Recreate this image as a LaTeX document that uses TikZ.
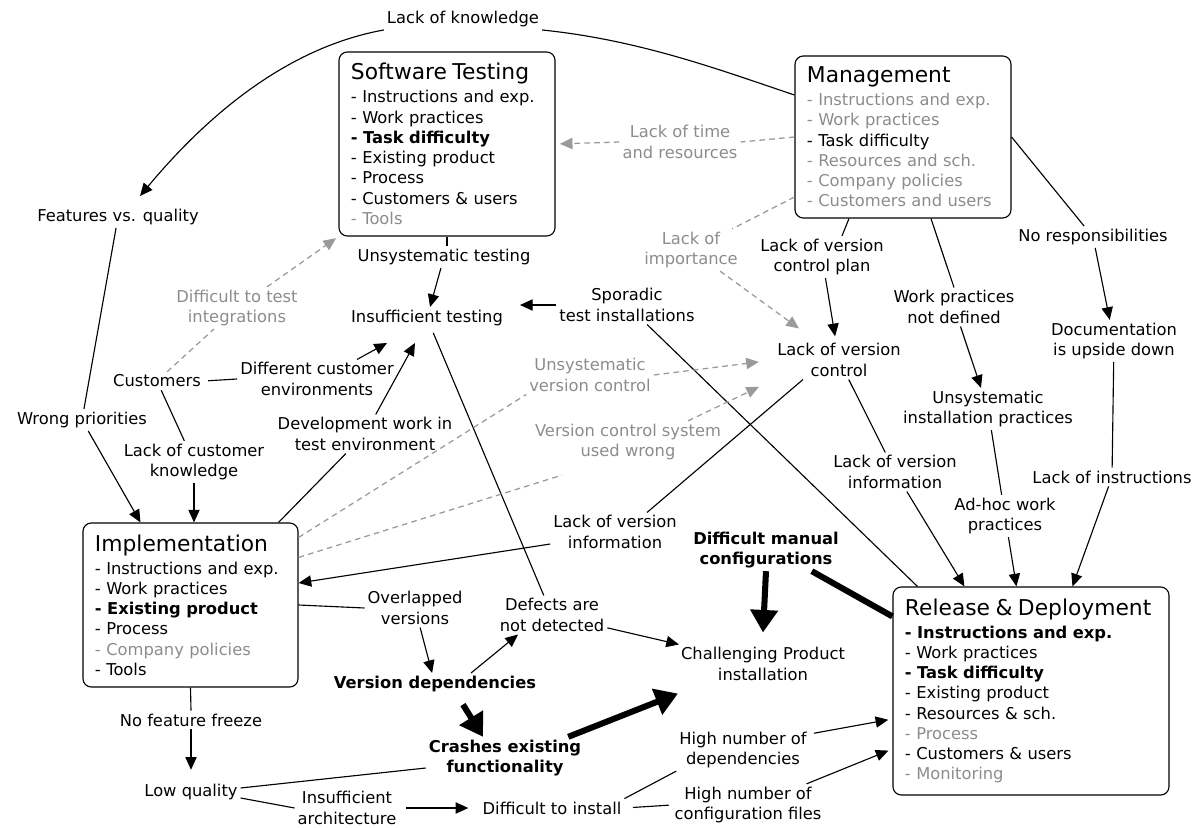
\documentclass[tikz,border=0pt]{standalone}
\usepackage{fontspec}
\setmainfont{DejaVu Sans}
\usetikzlibrary{arrows.meta}

\definecolor{softgray}{HTML}{8C8C8C}
\definecolor{dashgray}{HTML}{9A9A9A}
\newcommand\lblfont{\fontsize{11.6}{14.4}\selectfont}
\newcommand\headfont{\fontsize{15.5}{18}\selectfont}
\newcommand\dimitem[1]{\textcolor{softgray}{- #1}}

\begin{document}
\begin{tikzpicture}[x=0.025cm,y=-0.025cm,
	every node/.style={font=\lblfont},
	lbl/.style={align=center,inner sep=2pt},
	dimlbl/.style={lbl,text=softgray},
	topic/.style={draw,rounded corners=6pt,line width=0.8pt,align=left,inner xsep=0.3cm,inner ysep=3pt},
	link/.style={line width=0.8pt},
	cause/.style={link,-{Triangle[length=9pt,width=8pt]}},
	weaklink/.style={dashgray,line width=0.9pt,dash pattern=on 4pt off 3pt},
	weak/.style={weaklink,-{Triangle[length=9pt,width=8pt]}},
	majorlink/.style={line width=4.3pt},
	major/.style={majorlink,-{Triangle[length=16pt,width=19pt]}}]

	\useasboundingbox (0,0) rectangle (1199,828);

	\node[topic,text width=4.8cm,minimum height=4.6cm] (swt) at (447,144) {{\headfont Software Testing}\\[2pt]
		- Instructions and exp.\\- Work practices\\\textbf{- Task difficulty}\\- Existing product\\- Process\\- Customers \& users\\\dimitem{Tools}};
	\node[topic,text width=4.8cm,minimum height=4.05cm] (mgmt) at (903,137) {{\headfont Management}\\[2pt]
		\dimitem{Instructions and exp.}\\\dimitem{Work practices}\\- Task difficulty\\\dimitem{Resources and sch.}\\\dimitem{Company policies}\\\dimitem{Customers and users}};
	\node[topic,text width=4.775cm,minimum height=4.1cm] (impl) at (190.5,605) {{\headfont Implementation}\\[2pt]
		- Instructions and exp.\\- Work practices\\\textbf{- Existing product}\\- Process\\\dimitem{Company policies}\\- Tools};
	\node[topic,text width=6.3cm,minimum height=5.2cm] (rel) at (1031,691) {{\headfont Release \& Deployment}\\[2pt]
		\textbf{- Instructions and exp.}\\- Work practices\\\textbf{- Task difficulty}\\- Existing product\\- Resources \& sch.\\\dimitem{Process}\\- Customers \& users\\\dimitem{Monitoring}};

	\node[lbl] (know) at (463,19) {Lack of knowledge};
	\node[lbl] (fvq) at (118,217) {Features vs. quality};
	\node[lbl] (wrong) at (82,420) {Wrong priorities};
	\node[lbl] (cust) at (157,381) {Customers};
	\node[dimlbl] (difftest) at (237,308) {Difficult to test\\integrations};
	\node[lbl] (diffenv) at (317,379) {Different customer\\environments};
	\node[lbl] (lackcust) at (194,462) {Lack of customer\\knowledge};
	\node[lbl] (devwork) at (365,434) {Development work in\\test environment};
	\node[lbl] (unsystest) at (444,257) {Unsystematic testing};
	\node[lbl] (insuff) at (427,318) {Insufficient testing};
	\node[lbl] (spor) at (627,305) {Sporadic\\test installations};
	\node[dimlbl] (timeres) at (680,142) {Lack of time\\and resources};
	\node[dimlbl] (importance) at (691,250) {Lack of\\importance};
	\node[lbl] (vcplan) at (822,257) {Lack of version\\control plan};
	\node[lbl] (wpnd) at (954,307) {Work practices\\not defined};
	\node[lbl] (noresp) at (1093,237) {No responsibilities};
	\node[lbl] (doc) at (1114,341) {Documentation\\is upside down};
	\node[lbl] (lvc) at (839,360) {Lack of version\\control};
	\node[dimlbl] (unsysvc) at (590,375) {Unsystematic\\version control};
	\node[dimlbl] (vcwrong) at (628,442) {Version control system\\used wrong};
	\node[lbl] (uip) at (988,409) {Unsystematic\\installation practices};
	\node[lbl] (lvir) at (895,472) {Lack of version\\information};
	\node[lbl] (loi) at (1112,477) {Lack of instructions};
	\node[lbl] (adhoc) at (1005,516) {Ad-hoc work\\practices};
	\node[lbl] (lvil) at (615,532) {Lack of version\\information};
	\node[lbl,font=\lblfont\bfseries] (dmc) at (766,550) {Difficult manual\\configurations};
	\node[lbl] (overl) at (415,608) {Overlapped\\versions};
	\node[lbl] (defects) at (552,615) {Defects are\\not detected};
	\node[lbl] (chall) at (763,664) {Challenging Product\\installation};
	\node[lbl,font=\lblfont\bfseries] (vdep) at (435,684) {Version dependencies};
	\node[lbl] (nff) at (191,720) {No feature freeze};
	\node[lbl,font=\lblfont\bfseries] (crash) at (505,758) {Crashes existing\\functionality};
	\node[lbl] (hnd) at (743,750) {High number of\\dependencies};
	\node[lbl] (lowq) at (191,792) {Low quality};
	\node[lbl] (insarch) at (347,808) {Insufficient\\architecture};
	\node[lbl] (dti) at (552,808) {Difficult to install};
	\node[lbl] (hncf) at (748,805) {High number of\\configuration files};

	\draw[cause] (know.south west) .. controls (300,45) and (220,100) .. ([xshift=0.55cm,yshift=0.25cm]fvq.north);
	\draw[link] (know.south east) .. controls (640,40) and (720,70) .. ([yshift=1.05cm]mgmt.west);
	\draw[link] (fvq) -- (wrong);
	\draw[cause] (wrong) -- ([xshift=-1.25cm]impl.north);
	\draw[link,shorten <=3pt] (cust.east) -- (diffenv.west);
	\draw[link] (cust) -- (lackcust);
	\draw[cause] (lackcust) -- (lackcust |- impl.north);
	\draw[weaklink] (cust) -- (difftest);
	\draw[weak,shorten >=2pt] (difftest) -- (swt.south west);
	\draw[cause] ([xshift=1cm]diffenv.north) -- ([xshift=-1cm,yshift=-0.35cm]insuff.south);
	\draw[link] ([xshift=2.2cm]impl.north) -- (devwork);
	\draw[cause] (devwork) -- ([xshift=-0.3cm,yshift=-0.35cm]insuff.south);
	\draw[link] (swt.south) -- (swt.south |- unsystest.north);
	\draw[cause] (unsystest) -- (insuff);
	\draw[cause] (spor.west) -- ([xshift=0.35cm]insuff.east |- spor.west);
	\draw[link] (spor) -- ([xshift=0.625cm]rel.north west);
	\draw[link,shorten <=3pt] (insuff) -- (defects);
	\draw[cause] (defects) -- (chall);
	\draw[link] (impl.east) -- (overl.west);
	\draw[cause] (overl) -- (vdep);
	\draw[cause] ([xshift=0.9cm]vdep.north) -- ([xshift=-0.85cm]defects.south);
	\draw[major,shorten <=8pt] ([xshift=0.55cm]vdep.south) -- ([xshift=-0.55cm]crash.north);
	\draw[major] ([xshift=-0.4cm]crash.north east) -- ([yshift=-0.25cm]chall.south west);
	\draw[major] (dmc.south) -- ([yshift=0.3cm]chall.north);
	\draw[majorlink] ([xshift=-0.75cm]dmc.south east) -- ([yshift=-0.75cm]rel.north west);
	\draw[link] ([yshift=0.1cm]lowq.east) -- ([yshift=-0.25cm]crash.west);
	\draw[link] ([yshift=-0.15cm]lowq.east) -- (insarch.west);
	\draw[cause,shorten <=5pt,shorten >=8pt] (insarch.east) -- (dti.west);
	\draw[link] (dti.north east) -- (hnd.south west);
	\draw[link,shorten <=6pt,shorten >=2pt] (dti.east) -- (hncf.west);
	\draw[cause,shorten <=3pt,shorten >=3pt] ([yshift=0.4cm]hnd.east) -- ([yshift=-0.7cm]rel.west);
	\draw[cause,shorten >=3pt] ([xshift=-0.45cm]hncf.north east) -- ([yshift=-1.45cm]rel.west);
	\draw[link] (impl.south) -- (nff.north);
	\draw[cause,shorten >=8pt] (nff.south) -- (lowq.north);
	\draw[cause] ([yshift=-0.3cm]lvil.west) -- ([yshift=0.55cm]impl.east);
	\draw[link] ([xshift=-0.9cm]lvc.south) -- ([xshift=0.8cm]lvil.north);
	\draw[link] (lvc) -- (lvir);
	\draw[cause] (lvir) -- ([xshift=1.8cm]rel.north west);
	\draw[link] ([xshift=-1.35cm]mgmt.south) -- ([xshift=0.5cm]vcplan.north);
	\draw[cause,shorten >=3pt] (vcplan) -- (lvc);
	\draw[link] ([xshift=0.7cm]mgmt.south) -- (wpnd.north);
	\draw[cause] (wpnd) -- (uip);
	\draw[link] (uip) -- (adhoc);
	\draw[cause] (adhoc) -- ([xshift=3.1cm]rel.north west);
	\draw[link] (mgmt.east) -- (noresp);
	\draw[cause] (noresp) -- (doc);
	\draw[link] (doc) -- (loi);
	\draw[cause] (loi) -- ([xshift=4.5cm]rel.north west);
	\draw[weaklink] (mgmt.west) -- (timeres.east);
	\draw[weak,shorten >=3pt] (timeres.west) -- (swt.east);
	\draw[weaklink] ([yshift=-1.5cm]mgmt.west) -- (importance);
	\draw[weak] (importance) -- ([xshift=-1cm,yshift=0.3cm]lvc.north);
	\draw[weaklink] ([yshift=-0.375cm]impl.north east) -- (unsysvc.south west);
	\draw[weak,shorten >=11pt] (unsysvc.east) -- (lvc.west);
	\draw[weaklink] ([yshift=-0.875cm]impl.north east) -- ([xshift=0.75cm,yshift=-0.3cm]vcwrong.south west);
	\draw[weak,shorten >=12pt] ([xshift=-0.9cm]vcwrong.north east) -- (lvc.south west);
\end{tikzpicture}
\end{document}
